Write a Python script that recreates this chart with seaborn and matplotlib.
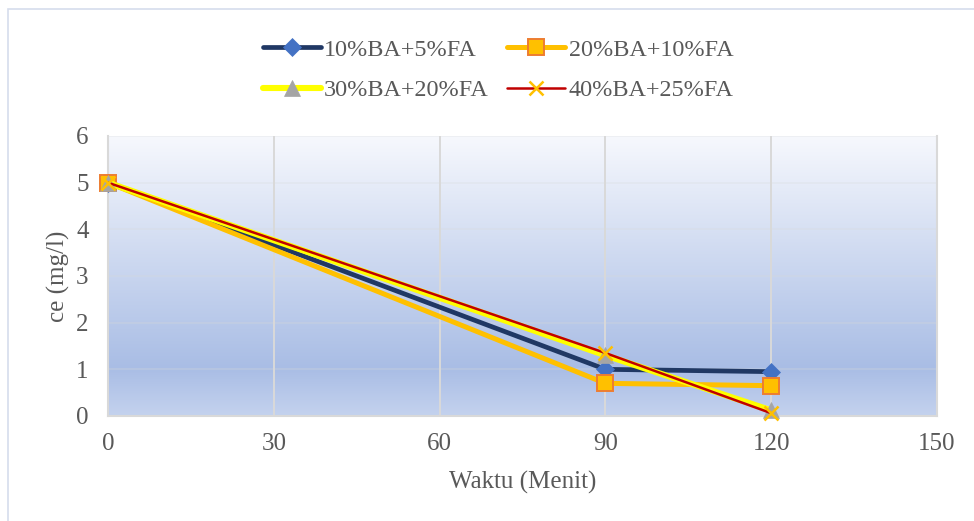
import numpy as np
import pandas as pd
import matplotlib
matplotlib.use("Agg")
import matplotlib.pyplot as plt
from matplotlib.colors import LinearSegmentedColormap
from matplotlib.patches import Rectangle
import seaborn as sns

# Contact time (minutes) and equilibrium concentration ce (mg/l)
waktu = [0, 90, 120]
ce_10ba_5fa = [5.0, 1.0, 0.95]
ce_20ba_10fa = [5.0, 0.70, 0.65]
ce_30ba_20fa = [5.0, 1.30, 0.12]
ce_40ba_25fa = [5.0, 1.35, 0.06]
series_labels = ["10%BA+5%FA", "20%BA+10%FA", "30%BA+20%FA", "40%BA+25%FA"]
x_ticks = [0, 30, 60, 90, 120, 150]
y_ticks = [0, 1, 2, 3, 4, 5, 6]

sns.set_theme(style="white")
plt.rcParams["font.family"] = ["Liberation Serif", "DejaVu Serif"]
text_color = "#595959"

fig = plt.figure(figsize=(9.74, 5.21), dpi=100)
ax = fig.add_axes([108 / 974, 1 - 416 / 521, (937 - 108) / 974, (416 - 136) / 521])

# Plot-area gradient fill
grad = LinearSegmentedColormap.from_list(
    "area", [(0.0, "#F6F8FD"), (0.83, "#A9BDE5"), (1.0, "#C4D2EE")]
)
ax.imshow(np.linspace(0, 1, 256).reshape(-1, 1), cmap=grad, aspect="auto",
          extent=[0, 1, 0, 1], transform=ax.transAxes, zorder=0,
          interpolation="bicubic")

df = pd.DataFrame({
    "waktu": waktu * 4,
    "ce": ce_10ba_5fa + ce_20ba_10fa + ce_30ba_20fa + ce_40ba_25fa,
    "seri": np.repeat(series_labels, len(waktu)),
})

styles = [
    dict(color="#203864", lw=3.4, marker="D", ms=9, mfc="#4472C4", mec="#4472C4", mew=0.5),
    dict(color="#FFC000", lw=3.6, marker="s", ms=11, mfc="#FFC000", mec="#ED7D31", mew=1.4),
    dict(color="#FFFF00", lw=4.4, marker="^", ms=11, mfc="#A5A5A5", mec="#A5A5A5", mew=0.5),
    dict(color="#C00000", lw=1.8, marker="x", ms=10, mfc="#FFC000", mec="#FFC000", mew=1.8),
]

for i, (lab, st) in enumerate(zip(series_labels, styles)):
    sub = df[df["seri"] == lab]
    sns.lineplot(data=sub, x="waktu", y="ce", ax=ax, label=lab,
                 color=st["color"], linewidth=st["lw"], marker=st["marker"],
                 markersize=st["ms"], markerfacecolor=st["mfc"],
                 markeredgecolor=st["mec"], markeredgewidth=st["mew"],
                 zorder=3 + i, solid_capstyle="round", clip_on=False)

ax.set_xlim(0, 150)
ax.set_ylim(0, 6)
ax.set_xticks(x_ticks)
ax.set_yticks(y_ticks)
ax.xaxis.grid(True, color="#D9D9D9", linewidth=1.4, zorder=1)
ax.yaxis.grid(True, color="#D9D9D9", linewidth=1.2, alpha=0.3, zorder=1)
ax.set_axisbelow(True)
for side in ["left", "bottom", "right"]:
    ax.spines[side].set_color("#D9D9D9")
    ax.spines[side].set_linewidth(1.5)
ax.spines["top"].set_visible(False)

ax.tick_params(axis="both", length=0, labelsize=18, labelcolor=text_color)
ax.tick_params(axis="y", pad=14)
ax.tick_params(axis="x", pad=12)
ax.set_xlabel("Waktu (Menit)", fontsize=18, color=text_color, labelpad=12)
ax.set_ylabel("ce (mg/l)", fontsize=18, color=text_color, labelpad=4)

# Legend filled row by row: two entries per row
handles, labels = ax.get_legend_handles_labels()
ax.get_legend().remove()
order = [0, 2, 1, 3]
fig.legend([handles[k] for k in order], [labels[k] for k in order],
           loc="center", bbox_to_anchor=(498 / 974, 1 - 70 / 521),
           ncol=2, frameon=False, fontsize=17.4, labelcolor=text_color,
           handlelength=2.4, handletextpad=0.15, columnspacing=0.75,
           labelspacing=0.78)

# Outer chart border
fig.add_artist(Rectangle((8 / 974, -0.01), 1.0, 1 - 9 / 521 + 0.01,
                         transform=fig.transFigure, fill=False,
                         edgecolor="#D6DDEC", linewidth=1.2))

fig.savefig("out.png", dpi=100, facecolor="white")
